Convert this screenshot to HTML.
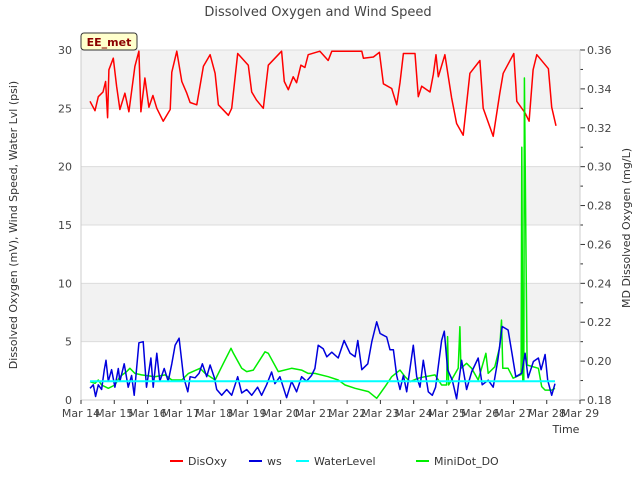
<!DOCTYPE html>
<html><head><meta charset="utf-8"><style>
body{margin:0;background:#fff;font-family:"Liberation Sans","DejaVu Sans",sans-serif}
svg text{font-family:"DejaVu Sans","Liberation Sans",sans-serif}
</style></head><body>
<svg id="chart" width="640" height="480" viewBox="0 0 640 480" xmlns="http://www.w3.org/2000/svg">
<text x="318" y="16" text-anchor="middle" font-size="13" fill="#444">Dissolved Oxygen and Wind Speed</text>
<g id="bands"></g><g id="grid"></g>
<g id="series"></g>
<g id="axes"></g>
<text transform="translate(17,225) rotate(-90)" text-anchor="middle" font-size="11" fill="#333">Dissolved Oxygen (mV), Wind Speed, Water Lvl (psi)</text>
<text transform="translate(630,228) rotate(-90)" text-anchor="middle" font-size="11" fill="#333">MD Dissolved Oxygen (mg/L)</text>
<text x="566" y="433" text-anchor="middle" font-size="11" fill="#333">Time</text>
<g>
<rect x="81" y="33" width="56" height="17" rx="3" fill="#ffffcc" stroke="#333" stroke-width="1"/>
<text x="109" y="46" text-anchor="middle" font-size="11" font-weight="bold" fill="#8b0000">EE_met</text>
</g>
<g id="legend"></g>
</svg>
<script>
const leftTicks=[0,5,10,15,20,25,30];
const rightTicks=[0.18,0.20,0.22,0.24,0.26,0.28,0.30,0.32,0.34,0.36];
const xTickLabels=["Mar 14","Mar 15","Mar 16","Mar 17","Mar 18","Mar 19","Mar 20","Mar 21","Mar 22","Mar 23","Mar 24","Mar 25","Mar 26","Mar 27","Mar 28","Mar 29"];
const disoxyT=[0.27,0.42,0.52,0.66,0.74,0.80,0.84,0.97,1.07,1.17,1.32,1.44,1.62,1.74,1.80,1.92,2.04,2.16,2.28,2.47,2.68,2.73,2.88,3.03,3.18,3.28,3.48,3.68,3.88,4.03,4.13,4.43,4.53,4.71,5.03,5.13,5.28,5.48,5.63,6.03,6.11,6.23,6.38,6.48,6.61,6.73,6.83,7.18,7.43,7.54,7.69,8.44,8.49,8.79,8.97,9.09,9.34,9.49,9.59,9.69,10.04,10.14,10.24,10.49,10.59,10.67,10.74,10.94,11.14,11.29,11.49,11.69,11.99,12.09,12.39,12.59,12.69,13.01,13.10,13.35,13.47,13.59,13.70,14.05,14.15,14.28];
const disoxyV=[25.6,24.8,26,26.4,27.3,24.2,28.3,29.3,26.9,24.9,26.3,24.7,28.6,29.9,24.7,27.6,25.1,26.1,25,23.9,24.9,28.1,29.9,27.3,26.3,25.5,25.3,28.6,29.6,28,25.3,24.4,25,29.7,28.7,26.4,25.7,25,28.7,29.9,27.3,26.6,27.7,27.2,28.7,28.5,29.6,29.9,29.1,29.9,29.9,29.9,29.3,29.4,29.8,27.1,26.7,25.3,27.2,29.7,29.7,26,26.9,26.4,27.9,29.6,27.7,29.6,25.9,23.7,22.7,28,29.1,25,22.6,26.3,28,29.7,25.6,24.6,23.9,28.3,29.6,28.4,25.1,23.5];
const wsT=[0.27,0.37,0.44,0.52,0.62,0.70,0.75,0.82,0.92,1.02,1.12,1.17,1.30,1.42,1.52,1.60,1.74,1.87,1.97,2.10,2.17,2.28,2.37,2.50,2.62,2.73,2.83,2.95,3.08,3.21,3.28,3.43,3.55,3.65,3.78,3.88,4.01,4.08,4.23,4.38,4.53,4.71,4.83,4.98,5.13,5.31,5.43,5.58,5.73,5.83,5.98,6.18,6.33,6.48,6.63,6.78,6.93,7.03,7.13,7.28,7.39,7.54,7.73,7.91,8.09,8.24,8.32,8.44,8.62,8.74,8.89,8.99,9.19,9.29,9.39,9.49,9.59,9.69,9.79,9.99,10.09,10.19,10.29,10.44,10.56,10.66,10.84,10.92,11.02,11.16,11.29,11.44,11.59,11.74,11.94,12.06,12.24,12.39,12.53,12.66,12.84,12.95,13.07,13.25,13.35,13.44,13.60,13.75,13.83,13.95,14.03,14.15,14.25];
const wsV=[1.0,1.3,0.3,1.3,0.9,2.6,3.4,1.6,2.6,1.1,2.7,1.6,3.1,1.1,2.1,0.4,4.9,5.0,1.1,3.6,1.1,4.0,1.6,2.7,1.6,3.1,4.7,5.3,2.0,0.7,2.0,1.9,2.3,3.1,2.0,3.0,1.9,0.9,0.4,0.9,0.4,2.0,0.6,0.9,0.4,1.1,0.4,1.3,2.4,1.4,2.0,0.2,1.6,0.7,2.0,1.6,2.1,2.7,4.7,4.4,3.7,4.1,3.6,5.1,4.0,3.7,5.1,2.6,3.1,5.0,6.7,5.7,5.4,4.3,4.3,2.1,0.9,2.1,0.7,4.7,2.0,1.1,3.4,0.7,0.4,1.1,5.1,5.9,2.6,1.7,0.1,3.4,0.9,2.4,3.6,1.3,1.7,1.1,3.4,6.3,6.0,4.1,2.0,2.3,4.0,1.9,3.3,3.6,2.6,3.9,1.7,0.4,1.4];
const waterT=[0.27,3,6,9,12,14.25];
const waterV=[1.6,1.6,1.6,1.6,1.6,1.6];
const miniT=[0.27,0.42,0.52,0.62,0.82,1.02,1.17,1.37,1.47,1.62,1.82,2.22,2.53,2.73,3.03,3.23,3.58,3.73,4.03,4.28,4.51,4.58,4.83,4.98,5.18,5.53,5.63,5.93,6.33,6.63,6.83,7.03,7.43,7.73,7.94,8.24,8.64,8.89,9.14,9.34,9.59,9.74,9.89,10.14,10.34,10.64,10.84,10.99,11.02,11.05,11.34,11.39,11.42,11.59,11.74,11.94,12.17,12.24,12.44,12.59,12.64,12.68,12.84,12.99,13.20,13.23,13.25,13.28,13.31,13.33,13.38,13.41,13.75,13.85,13.95,14.15,14.25];
const miniV=[0.1894,0.1886,0.1903,0.1877,0.1860,0.1877,0.1920,0.1946,0.1963,0.1937,0.1929,0.1920,0.1929,0.1903,0.1903,0.1937,0.1963,0.1937,0.1903,0.1989,0.2066,0.2040,0.1963,0.1946,0.1954,0.2048,0.2040,0.1946,0.1963,0.1954,0.1937,0.1937,0.1920,0.1903,0.1877,0.1860,0.1843,0.1809,0.1869,0.1920,0.1954,0.1920,0.1894,0.1912,0.1920,0.1929,0.1877,0.1877,0.2126,0.1877,0.1963,0.2177,0.1963,0.1989,0.1963,0.1903,0.2040,0.1937,0.1971,0.2074,0.2211,0.1963,0.1963,0.1912,0.1929,0.1929,0.310,0.190,0.190,0.3456,0.250,0.198,0.1963,0.1869,0.1851,0.1851,0.1860];

const NS='http://www.w3.org/2000/svg';
const X0=81,X1=580,Y0=400,Y1=50;
const xs=d=>X0+(X1-X0)*d/15;
const yl=v=>Y0-(Y0-Y1)*v/30;
const yr=v=>Y0-(Y0-Y1)*(v-0.18)/0.18;
function mk(tag,attrs,parent){const e=document.createElementNS(NS,tag);for(const k in attrs)e.setAttribute(k,attrs[k]);parent.appendChild(e);return e;}
const bands=document.getElementById('bands'),grid=document.getElementById('grid'),axes=document.getElementById('axes'),series=document.getElementById('series'),legend=document.getElementById('legend');
mk('rect',{x:X0,y:Y1,width:X1-X0,height:Y0-Y1,fill:'#fff'},bands);
for(let i=0;i<leftTicks.length-1;i++){if(i%2==1){const b=mk('rect',{x:X0,y:yl(leftTicks[i+1]),width:X1-X0,height:yl(leftTicks[i])-yl(leftTicks[i+1]),fill:'#f2f2f2'},bands);

}}
leftTicks.forEach(v=>{const y=yl(v);
const g=mk('line',{x1:X0,x2:X1,y1:y,y2:y,stroke:'#dcdcdc','stroke-width':1},grid);


const t=mk('text',{x:72,y:y+4,'text-anchor':'end','font-size':11,fill:'#444'},axes);t.textContent=v;

});
rightTicks.forEach(v=>{const y=yr(v);
mk('line',{x1:X1,x2:X1+5,y1:y,y2:y,stroke:'#333'},axes);
const t=mk('text',{x:587,y:y+4,'font-size':11,fill:'#444'},axes);t.textContent=v.toFixed(2);

});
for(let i=0;i<rightTicks.length-1;i++){const y=(yr(rightTicks[i])+yr(rightTicks[i+1]))/2;mk('line',{x1:X1,x2:X1+3,y1:y,y2:y,stroke:'#333'},axes);}
mk('line',{x1:X0,x2:X0,y1:Y1,y2:Y0,stroke:'#ccc'},axes);
mk('line',{x1:X1,x2:X1,y1:Y1,y2:Y0,stroke:'#ccc'},axes);
mk('line',{x1:X0,x2:X1,y1:Y0,y2:Y0,stroke:'#ccc'},axes);
xTickLabels.forEach((l,i)=>{const x=xs(i);
mk('line',{x1:x,x2:x,y1:Y0,y2:Y0+4,stroke:'#333'},axes);
const t=mk('text',{x:x,y:417,'text-anchor':'middle','font-size':11,fill:'#444'},axes);t.textContent=l;

});
function line(T,V,yf,color,w,name){const d=T.map((t,i)=>(i?'L':'M')+xs(t).toFixed(1)+','+yf(V[i]).toFixed(1)).join('');
const p=mk('path',{d:d,fill:'none',stroke:color,'stroke-width':w,'stroke-linejoin':'round'},series);

}
line(disoxyT,disoxyV,yl,'#ff0000',1.5,'disoxy-line');
line(miniT,miniV,yr,'#00ee00',1.5,'minidot-do-line');
line(wsT,wsV,yl,'#0000dd',1.5,'ws-line');
line(waterT,waterV,yl,'#00ffff',2,'waterlevel-line');
const items=[['DisOxy','#ff0000',170],['ws','#0000dd',249],['WaterLevel','#00ffff',296],['MiniDot_DO','#00ee00',416]];
items.forEach(it=>{
const g=mk('g',{},legend);


mk('line',{x1:it[2],x2:it[2]+13,y1:461,y2:461,stroke:it[1],'stroke-width':2},g);
const t=mk('text',{x:it[2]+18,y:465,'font-size':11,fill:'#333'},g);t.textContent=it[0];});
</script>
</body></html>
